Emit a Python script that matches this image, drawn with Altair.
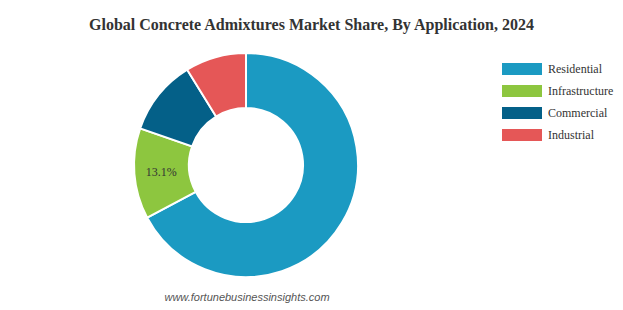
import altair as alt
import pandas as pd

categories = ["Residential", "Infrastructure", "Commercial", "Industrial"]
shares = [67.2, 13.1, 10.9, 8.8]
labels = ["", "13.1%", "", ""]
colors = ["#1b9ac2", "#8dc63f", "#046088", "#e55757"]

df = pd.DataFrame({
    "category": categories,
    "share": shares,
    "label": labels,
    "order": list(range(len(categories))),
})

cx, cy = 246, 125

base = alt.Chart(df).encode(
    theta=alt.Theta("share:Q", stack=True),
    order=alt.Order("order:Q"),
)

arcs = base.mark_arc(innerRadius=57, outerRadius=112, stroke="white", strokeWidth=2).encode(
    x=alt.value(cx),
    y=alt.value(cy),
    color=alt.Color(
        "category:N",
        scale=alt.Scale(domain=categories, range=colors),
        sort=categories,
        legend=alt.Legend(
            title=None,
            orient="none",
            legendX=516,
            legendY=23,
            symbolType="M-3.333,-1H3.333V1H-3.333Z",
            symbolSize=144,
            symbolStrokeWidth=0,
            labelOffset=20,
            labelFont="Liberation Serif",
            labelFontSize=12,
            labelColor="#333333",
            rowPadding=10,
            padding=0,
        ),
    ),
)

text = base.mark_text(radius=85, font="Liberation Serif", fontSize=12, color="#333333").encode(
    x=alt.value(cx),
    y=alt.value(cy),
    text="label:N",
)

source = alt.Chart(pd.DataFrame({"t": ["www.fortunebusinessinsights.com"]})).mark_text(
    font="Liberation Sans", fontSize=11, fontStyle="italic", color="#555555"
).encode(x=alt.value(247), y=alt.value(258), text="t:N")

chart = alt.layer(arcs, text, source).properties(
    width=623,
    height=270,
    title=alt.TitleParams(
        "Global Concrete Admixtures Market Share, By Application, 2024",
        font="Liberation Serif",
        fontSize=16,
        fontWeight="bold",
        color="#333333",
        anchor="middle",
        offset=7,
    ),
    autosize=alt.AutoSizeParams(type="none"),
    padding={"left": 0, "top": 40, "right": 0, "bottom": 0},
).configure_view(stroke=None)

chart.save("out.html", embed_options={"renderer": "svg", "actions": False})
